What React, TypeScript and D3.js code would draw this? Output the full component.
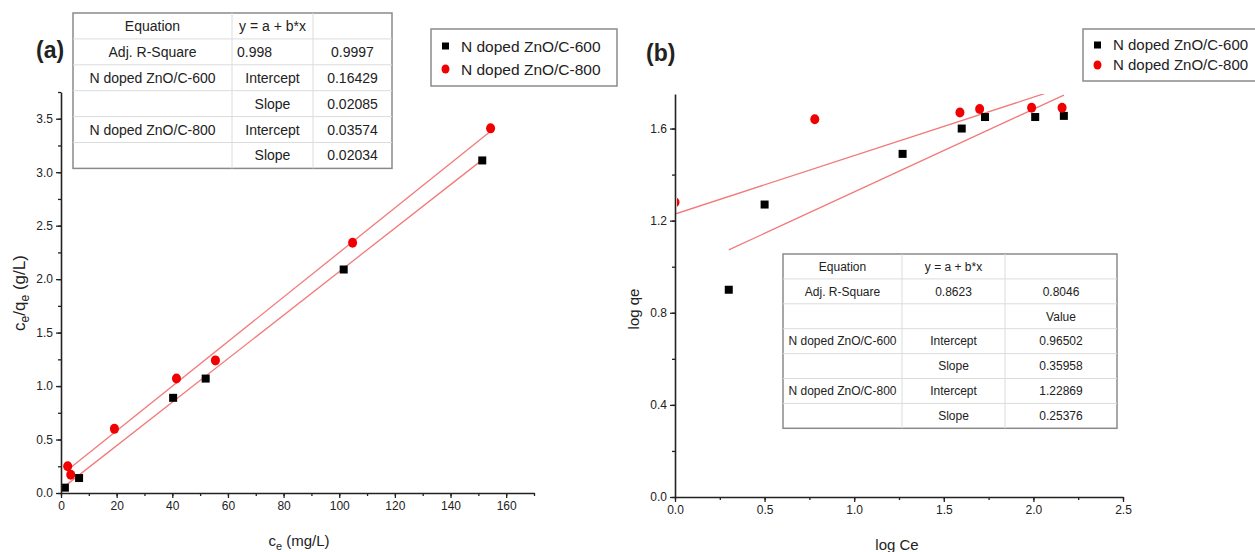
import React, { useEffect, useRef } from 'react';
import * as d3 from 'd3';

// ---- panel (a): Langmuir, ce/qe vs ce ----
const ceA600 = [1.4, 6.5, 40.3, 52.0, 101.6, 151.4];
const qA600 = [0.05, 0.14, 0.89, 1.07, 2.09, 3.11];
const ceA800 = [2.4, 3.5, 19.2, 41.5, 55.5, 104.8, 154.4];
const qA800 = [0.25, 0.17, 0.6, 1.07, 1.24, 2.34, 3.41];
// fitted lines drawn in the plot (lower line through 600 points, upper through 800 points)
const fitA600 = { a: 0.03574, b: 0.02034 };
const fitA800 = { a: 0.16429, b: 0.02085 };
const tableA = [
  ['Equation', 'y = a + b*x', ''],
  ['Adj. R-Square', '0.998', '0.9997'],
  ['N doped ZnO/C-600', 'Intercept', '0.16429'],
  ['', 'Slope', '0.02085'],
  ['N doped ZnO/C-800', 'Intercept', '0.03574'],
  ['', 'Slope', '0.02034'],
];
const xTicksA = [0, 20, 40, 60, 80, 100, 120, 140, 160];
const yTicksA = [0, 0.5, 1, 1.5, 2, 2.5, 3, 3.5];

// ---- panel (b): Freundlich, log qe vs log Ce ----
const logCe600 = [0.3, 0.5, 1.27, 1.6, 1.73, 2.01, 2.17];
const logQe600 = [0.9, 1.27, 1.49, 1.6, 1.65, 1.65, 1.655];
const logCe800 = [0.0, 0.78, 1.59, 1.7, 1.99, 2.16];
const logQe800 = [1.28, 1.64, 1.67, 1.685, 1.69, 1.69];
const fitB600 = { a: 0.96502, b: 0.35958 };
const fitB800 = { a: 1.22869, b: 0.25376 };
const tableB = [
  ['Equation', 'y = a + b*x', ''],
  ['Adj. R-Square', '0.8623', '0.8046'],
  ['', '', 'Value'],
  ['N doped ZnO/C-600', 'Intercept', '0.96502'],
  ['', 'Slope', '0.35958'],
  ['N doped ZnO/C-800', 'Intercept', '1.22869'],
  ['', 'Slope', '0.25376'],
];
const xTicksB = [0, 0.5, 1, 1.5, 2, 2.5];
const yTicksB = [0, 0.4, 0.8, 1.2, 1.6];

const seriesNames = ['N doped ZnO/C-600', 'N doped ZnO/C-800'];

const FONT = '"Liberation Sans", Arial, sans-serif';
const RED = '#f00000';
const FIT = '#f27a7a';

const xA = d3.scaleLinear().domain([0, 170]).range([61, 534]);
const yA = d3.scaleLinear().domain([0, 3.75]).range([493, 92]);
const xB = d3.scaleLinear().domain([0, 2.5]).range([675, 1123]);
const yB = d3.scaleLinear().domain([0, 1.75]).range([497, 94]);

const Axis = ({ scale, orient, y0, x0, major, minor, fmt }) => {
  const ref = useRef(null);
  useEffect(() => {
    const g = d3.select(ref.current);
    g.selectAll('*').remove();
    const mk = () => (orient === 'left' ? d3.axisLeft(scale) : d3.axisBottom(scale));
    const gm = g.append('g').call(mk().tickValues(minor).tickFormat(() => '').tickSize(3).tickSizeOuter(0));
    gm.select('.domain').remove();
    g.append('g').call(mk().tickValues(major).tickFormat(fmt).tickSize(5).tickPadding(3).tickSizeOuter(0));
    g.selectAll('path.domain').attr('stroke', '#222').attr('stroke-width', 1.6);
    g.selectAll('.tick line').attr('stroke', '#222').attr('stroke-width', 1.3);
    g.selectAll('.tick text').attr('fill', '#222').style('font-family', FONT).style('font-size', '12px');
  }, [scale, orient, major, minor, fmt]);
  return <g ref={ref} transform={orient === 'left' ? `translate(${x0},0)` : `translate(0,${y0})`} />;
};

const Square = ({ x, y }) => <rect x={x - 4} y={y - 4} width={8} height={8} fill="#000" />;
const Dot = ({ x, y }) => <ellipse cx={x} cy={y} rx={4.5} ry={5} fill={RED} />;

const FitLine = ({ fit, xs, sx, sy }) => {
  const lo = d3.min(xs);
  const hi = d3.max(xs);
  const line = d3.line().x((d) => sx(d)).y((d) => sy(fit.a + fit.b * d));
  return <path d={line([lo, hi])} fill="none" stroke={FIT} strokeWidth={1.3} />;
};

const Table = ({ rows, x, y, cols, rowH, fontSize, align }) => {
  const w = cols[cols.length - 1];
  const h = rows.length * rowH;
  return (
    <g transform={`translate(${x},${y})`} style={{ fontFamily: FONT }}>
      <rect width={w} height={h} fill="#fff" stroke="#8a8a8a" strokeWidth={1.5} />
      {rows.slice(1).map((_, i) => (
        <line key={'h' + i} x1={0} x2={w} y1={(i + 1) * rowH} y2={(i + 1) * rowH} stroke="#dcdcdc" />
      ))}
      {cols.slice(1, -1).map((c, i) => (
        <line key={'v' + i} x1={c} x2={c} y1={0} y2={h} stroke="#dcdcdc" />
      ))}
      {rows.map((r, i) =>
        r.map((t, j) => {
          const left = align && align(i, j);
          const cx = left ? cols[j] + 5 : (cols[j] + cols[j + 1]) / 2;
          return (
            <text
              key={i + '-' + j}
              x={cx}
              y={i * rowH + rowH / 2 + fontSize * 0.36}
              textAnchor={left ? 'start' : 'middle'}
              fontSize={fontSize}
              fill="#222"
            >
              {t}
            </text>
          );
        })
      )}
    </g>
  );
};

const Legend = ({ x, y, w, h, fontSize, gap }) => (
  <g style={{ fontFamily: FONT }}>
    <rect x={x} y={y} width={w} height={h} fill="#fff" stroke="#8a8a8a" strokeWidth={1.5} />
    <rect x={x + 11} y={y + h / 2 - gap / 2 - 3.5} width={7} height={7} fill="#000" />
    <ellipse cx={x + 14.5} cy={y + h / 2 + gap / 2} rx={4} ry={4.5} fill={RED} />
    {seriesNames.map((n, i) => (
      <text key={n} x={x + 30} y={y + h / 2 + (i === 0 ? -gap / 2 : gap / 2) + fontSize * 0.36} fontSize={fontSize} fill="#222">
        {n}
      </text>
    ))}
  </g>
);

const fmt1 = d3.format('.1f');
const fmt0 = d3.format('d');

export default function App() {
  const minorXA = d3.range(0, 171, 10);
  const minorYA = d3.range(0, 3.76, 0.25);
  const minorXB = d3.range(0, 2.51, 0.25);
  const minorYB = d3.range(0, 1.76, 0.2);
  return (
    <div style={{ position: 'absolute', left: 0, top: 0 }}>
      <svg width={1255} height={552} style={{ display: 'block', background: '#fff' }}>
        <defs>
          <clipPath id="clipA">
            <rect x={xA.range()[0]} y={yA.range()[1]} width={xA.range()[1] - xA.range()[0]} height={yA.range()[0] - yA.range()[1]} />
          </clipPath>
          <clipPath id="clipB">
            <rect x={xB.range()[0] + 2} y={yB.range()[1]} width={xB.range()[1] - xB.range()[0]} height={yB.range()[0] - yB.range()[1]} />
          </clipPath>
          <clipPath id="clipBL">
            <rect x={xB.range()[0]} y={yB.range()[1]} width={xB.range()[1] - xB.range()[0]} height={yB.range()[0] - yB.range()[1]} />
          </clipPath>
        </defs>

        {/* ---------- panel (a) ---------- */}
        <text x={36} y={58} fontFamily={FONT} fontWeight="bold" fontSize={23} fill="#222">(a)</text>
        <g clipPath="url(#clipA)">
          <FitLine fit={fitA600} xs={ceA600} sx={xA} sy={yA} />
          <FitLine fit={fitA800} xs={ceA800} sx={xA} sy={yA} />
          {ceA600.map((c, i) => <Square key={'a6' + i} x={xA(c)} y={yA(qA600[i])} />)}
          {ceA800.map((c, i) => <Dot key={'a8' + i} x={xA(c)} y={yA(qA800[i])} />)}
        </g>
        <Axis scale={xA} orient="bottom" y0={yA.range()[0]} major={xTicksA} minor={minorXA} fmt={fmt0} />
        <Axis scale={yA} orient="left" x0={xA.range()[0]} major={yTicksA} minor={minorYA} fmt={fmt1} />
        <text x={299} y={546} textAnchor="middle" fontFamily={FONT} fontSize={15} fill="#222">
          c<tspan fontSize={11} dy={4}>e</tspan>
          <tspan dy={-4}> (mg/L)</tspan>
        </text>
        <text transform="translate(25,293) rotate(-90)" textAnchor="middle" fontFamily={FONT} fontSize={17} fill="#222">
          c<tspan fontSize={12} dy={4}>e</tspan>
          <tspan dy={-4}>/q</tspan>
          <tspan fontSize={12} dy={4}>e</tspan>
          <tspan dy={-4}> (g/L)</tspan>
        </text>
        <Table
          rows={tableA}
          x={73}
          y={13}
          cols={[0, 159, 240, 319]}
          rowH={25.9}
          fontSize={14}
          align={(i, j) => i === 1 && j === 1}
        />
        <Legend x={431} y={29} w={186} h={57} fontSize={15.5} gap={23} />

        {/* ---------- panel (b) ---------- */}
        <text x={646} y={61} fontFamily={FONT} fontWeight="bold" fontSize={23} fill="#222">(b)</text>
        <g clipPath="url(#clipBL)">
          <FitLine fit={fitB600} xs={logCe600} sx={xB} sy={yB} />
          <FitLine fit={fitB800} xs={logCe800} sx={xB} sy={yB} />
        </g>
        <g clipPath="url(#clipB)">
          {logCe600.map((c, i) => <Square key={'b6' + i} x={xB(c)} y={yB(logQe600[i])} />)}
          {logCe800.map((c, i) => <Dot key={'b8' + i} x={xB(c)} y={yB(logQe800[i])} />)}
        </g>
        <Axis scale={xB} orient="bottom" y0={yB.range()[0]} major={xTicksB} minor={minorXB} fmt={fmt1} />
        <Axis scale={yB} orient="left" x0={xB.range()[0]} major={yTicksB} minor={minorYB} fmt={fmt1} />
        <text x={897} y={550} textAnchor="middle" fontFamily={FONT} fontSize={15} fill="#222">log Ce</text>
        <text transform="translate(639,309) rotate(-90)" textAnchor="middle" fontFamily={FONT} fontSize={15} fill="#222">log qe</text>
        <Table rows={tableB} x={783} y={254} cols={[0, 119, 222, 334]} rowH={24.9} fontSize={12} />
        <Legend x={1083} y={29} w={190} h={52} fontSize={15} gap={20} />
      </svg>
    </div>
  );
}
